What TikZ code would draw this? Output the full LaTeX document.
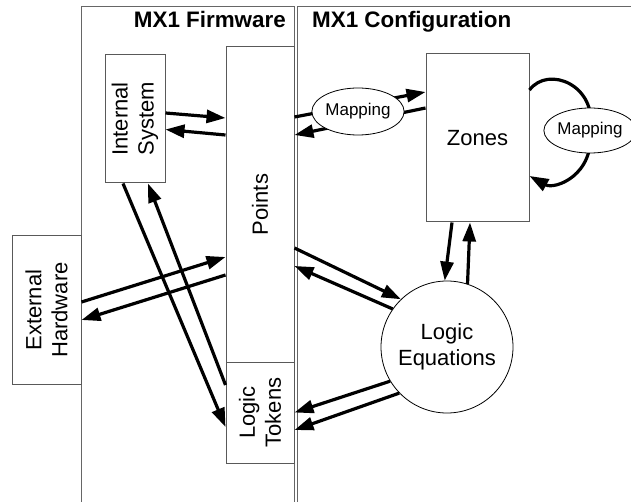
\documentclass[tikz,border=0pt]{standalone}
\usepackage{fontspec}
\setmainfont{Liberation Sans}
\usetikzlibrary{arrows.meta,shapes.geometric,calc}
\pgfdeclarelayer{bg}
\pgfdeclarelayer{fg}
\pgfsetlayers{bg,main,fg}
\begin{document}
\begin{tikzpicture}[x=1pt,y=-1pt,
  panel/.style={draw=black!60, line width=1pt},
  box/.style={draw=black!65, line width=1pt, fill=white, inner sep=0pt},
  txt/.style={font=\fontsize{22}{26}\selectfont, align=center, inner sep=0pt},
  title/.style={font=\bfseries\fontsize{22.4}{26}\selectfont, inner sep=0pt},
  mapnode/.style={ellipse, draw=black, line width=0.8pt, fill=white, inner sep=0pt, font=\fontsize{17}{20}\selectfont},
  arr/.style={line width=3.2pt, -{Triangle[length=19pt,width=13pt]}}
]
\useasboundingbox (0,0) rectangle (631,502);

% panels
\begin{pgfonlayer}{bg}
\draw[panel] (81,502) -- (81,7) -- (294,7) -- (294,502);
\draw[panel] (297,502) -- (297,7) -- (631,7);
\end{pgfonlayer}
\node[title, anchor=base east] (fwt) at (286,28) {MX1 Firmware};
\node[title, anchor=base west] (cft) at (312,28) {MX1 Configuration};

% boxes
\node[box, minimum width=60pt, minimum height=128pt] (is) at (135,119) {};
\node[box, minimum width=68pt, minimum height=315pt] (pts) at (260,204.5) {};
\node[box, minimum width=68pt, minimum height=101pt] (lt) at (260,412.5) {};
\node[box, minimum width=69pt, minimum height=148pt] (eh) at (46.5,310) {};
\node[box, minimum width=103pt, minimum height=168pt, txt] (zones) at (477.5,138) {Zones};
\node[circle, draw=black, line width=0.8pt, fill=white, minimum size=132pt, txt] (le) at (447,347) {Logic\\Equations};

% rotated texts
\node[txt, rotate=90] (ist) at (is.center) {Internal\\System};
\node[txt, rotate=90] (ptst) at (pts.center) {Points};
\node[txt, rotate=90] (ltt) at (lt.center) {Logic\\Tokens};
\node[txt, rotate=90] (eht) at (eh.center) {External\\Hardware};

% mapping ellipses (on top of the connectors)
\begin{pgfonlayer}{fg}
\node[mapnode, minimum width=87pt, minimum height=47pt] (m1) at (358,111.5) {Mapping};
\node[mapnode, minimum width=82pt, minimum height=45pt] (m2) at (590,130.5) {Mapping};
\end{pgfonlayer}

% connectors
\draw[arr] ([yshift=6pt]is.east) -- ([yshift=86.5pt]pts.west);
\draw[arr] ([yshift=69.5pt]pts.west) -- ([yshift=-10.5pt]is.east);

\draw[arr] ([yshift=87.5pt]pts.east) -- ([yshift=46pt]zones.west);
\draw[arr] ([yshift=30pt]zones.west) -- ([yshift=69.5pt]pts.east);

\draw[arr] ([yshift=48pt]zones.east) .. controls (548,65) and (598,85) .. (m2.center)
  .. controls (595,175) and (555,190) .. ([yshift=-38pt]zones.east);

\draw[arr] ([xshift=-25.5pt]zones.south) -- (le.92);
\draw[arr] (le.72) -- ([xshift=-7.5pt]zones.south);

\draw[arr] ([yshift=-43.5pt]pts.east) -- (le.134);
\draw[arr] (le.145) -- ([yshift=-61.5pt]pts.east);

\draw[arr] (le.211) -- (lt.east);
\draw[arr] (le.224) -- ([yshift=-17.5pt]lt.east);

\draw[arr] ([yshift=8pt]eh.east) -- ([yshift=-52.5pt]pts.west);
\draw[arr] ([yshift=-70.5pt]pts.west) -- ([yshift=-10pt]eh.east);

\draw[arr] ([xshift=-12pt]is.south) -- ([yshift=-14.5pt]lt.west);
\draw[arr] ([yshift=27.5pt]lt.west) -- ([xshift=13pt]is.south);
\end{tikzpicture}
\end{document}
